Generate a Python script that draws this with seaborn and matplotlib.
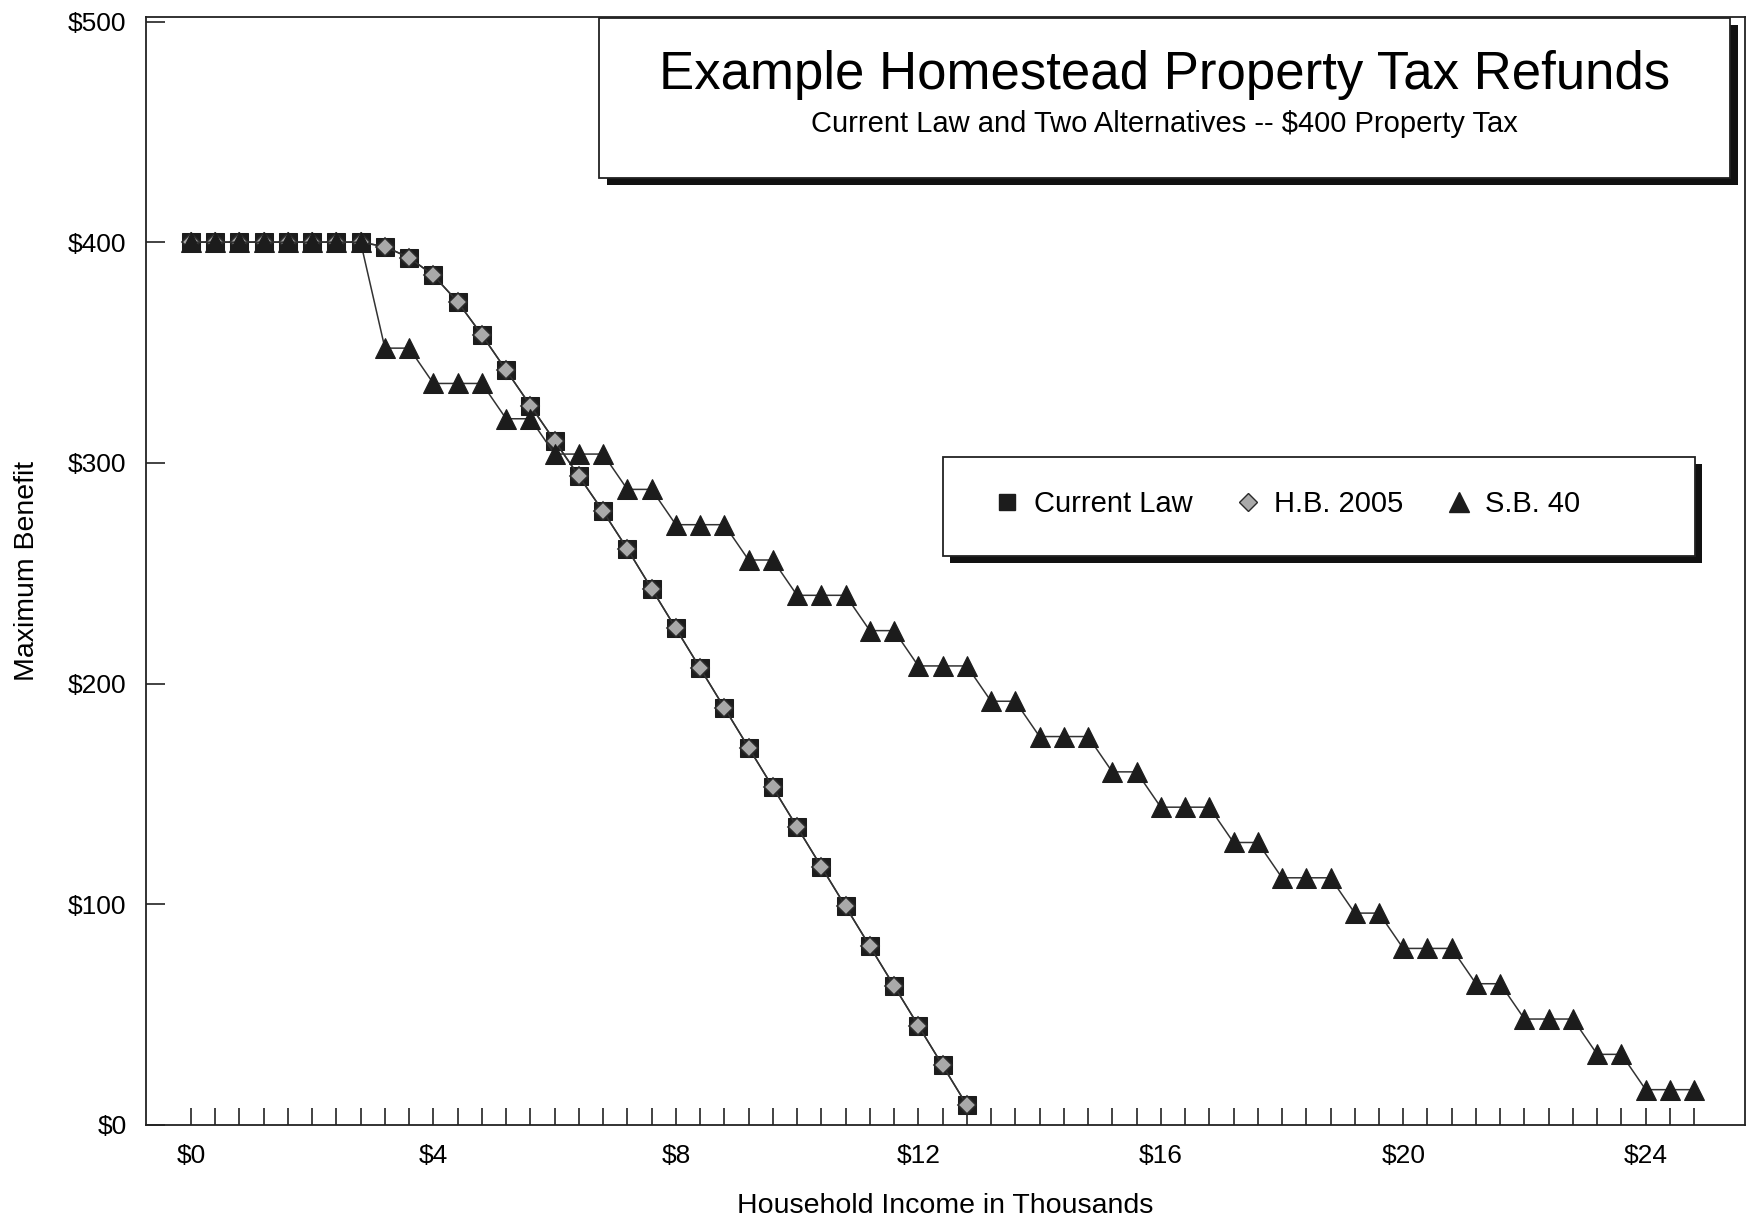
import pandas as pd
import matplotlib
matplotlib.use("Agg")
import matplotlib.pyplot as plt
import seaborn as sns
from matplotlib.lines import Line2D
from matplotlib.patches import Rectangle

# Household income in thousands (one point every $400)
income = [0.0, 0.4, 0.8, 1.2, 1.6, 2.0, 2.4, 2.8, 3.2, 3.6, 4.0, 4.4, 4.8, 5.2, 5.6,
          6.0, 6.4, 6.8, 7.2, 7.6, 8.0, 8.4, 8.8, 9.2, 9.6, 10.0, 10.4, 10.8, 11.2,
          11.6, 12.0, 12.4, 12.8, 13.2, 13.6, 14.0, 14.4, 14.8, 15.2, 15.6, 16.0,
          16.4, 16.8, 17.2, 17.6, 18.0, 18.4, 18.8, 19.2, 19.6, 20.0, 20.4, 20.8,
          21.2, 21.6, 22.0, 22.4, 22.8, 23.2, 23.6, 24.0, 24.4, 24.8]

current_law = [400, 400, 400, 400, 400, 400, 400, 400, 398, 393, 385, 373, 358, 342,
               326, 310, 294, 278, 261, 243, 225, 207, 189, 171, 153, 135, 117, 99,
               81, 63, 45, 27, 9]
hb_2005 = [400, 400, 400, 400, 400, 400, 400, 400, 398, 393, 385, 373, 358, 342,
           326, 310, 294, 278, 261, 243, 225, 207, 189, 171, 153, 135, 117, 99,
           81, 63, 45, 27, 9]
sb_40 = [400, 400, 400, 400, 400, 400, 400, 400, 352, 352, 336, 336, 336, 320, 320,
         304, 304, 304, 288, 288, 272, 272, 272, 256, 256, 240, 240, 240, 224, 224,
         208, 208, 208, 192, 192, 176, 176, 176, 160, 160, 144, 144, 144, 128, 128,
         112, 112, 112, 96, 96, 80, 80, 80, 64, 64, 48, 48, 48, 32, 32, 16, 16, 16]

x_ticks = income
x_labels = ["$0", "$4", "$8", "$12", "$16", "$20", "$24"]
y_ticks = [0, 100, 200, 300, 400, 500]

cl_df = pd.DataFrame({"income": income[:len(current_law)], "benefit": current_law})
hb_df = pd.DataFrame({"income": income[:len(hb_2005)], "benefit": hb_2005})
sb_df = pd.DataFrame({"income": income[:len(sb_40)], "benefit": sb_40})

sns.set_style("white")
plt.rcParams["font.family"] = ["Liberation Sans", "DejaVu Sans"]
plt.rcParams["text.color"] = "black"
plt.rcParams["xtick.color"] = "black"
plt.rcParams["ytick.color"] = "black"
plt.rcParams["axes.labelcolor"] = "black"

fig = plt.figure(figsize=(17.48, 12.22), dpi=100)
ax = fig.add_axes([0.0835, 0.0794, 0.9145, 0.9066])

line_col = "#333333"
sns.lineplot(data=cl_df, x="income", y="benefit", ax=ax, color=line_col, lw=1.1,
             marker="s", markersize=13, markerfacecolor="#1c1c1c",
             markeredgecolor="#1c1c1c", zorder=3)
sns.lineplot(data=hb_df, x="income", y="benefit", ax=ax, color=line_col, lw=1.1,
             marker="D", markersize=9, markerfacecolor="#a9a9a9",
             markeredgecolor="#2a2a2a", markeredgewidth=1.2, zorder=4)
sns.lineplot(data=sb_df, x="income", y="benefit", ax=ax, color=line_col, lw=1.1,
             marker="^", markersize=15, markerfacecolor="#1c1c1c",
             markeredgecolor="#1c1c1c", zorder=5)

ax.set_xlim(-0.742, 25.63)
ax.set_ylim(0, 502)

ax.set_xticks(x_ticks)
ax.set_xticklabels([x_labels[int(round(v)) // 4] if abs(v - round(v)) < 1e-6 and int(round(v)) % 4 == 0 else ""
                    for v in x_ticks])
ax.tick_params(axis="x", direction="in", length=12, width=1.2, color="#222222",
               labelsize=19, pad=14, bottom=True)
ax.set_yticks(y_ticks)
ax.set_yticklabels([f"${v}" for v in y_ticks])
ax.tick_params(axis="y", direction="in", length=14, width=1.2, color="#222222",
               labelsize=19, pad=14, left=True)

for s in ax.spines.values():
    s.set_color("#222222")
    s.set_linewidth(1.3)

ax.set_xlabel("Household Income in Thousands", fontsize=20.5, labelpad=18)
ax.set_ylabel("Maximum Benefit", fontsize=20.5, labelpad=20)


def shadow_box(x0, y0, x1, y1, dx, dy):
    fig.add_artist(Rectangle((x0 + dx, y0 - dy), x1 - x0, y1 - y0,
                             transform=fig.transFigure, facecolor="#111111",
                             edgecolor="none", zorder=8))
    fig.add_artist(Rectangle((x0, y0), x1 - x0, y1 - y0,
                             transform=fig.transFigure, facecolor="white",
                             edgecolor="#222222", linewidth=1.3, zorder=9))


# title box
shadow_box(0.3427, 0.8543, 0.9897, 0.9853, 8 / 1748, 7 / 1222)
fig.text(0.6665, 0.9386, "Example Homestead Property Tax Refunds", fontsize=38,
         ha="center", va="center", zorder=10)
fig.text(0.6660, 0.8985, "Current Law and Two Alternatives -- $400 Property Tax",
         fontsize=21, ha="center", va="center", zorder=10)

# legend box
shadow_box(0.5395, 0.545, 0.9697, 0.626, 7 / 1748, 7 / 1222)
handles = [
    Line2D([], [], ls="none", marker="s", markersize=12, markerfacecolor="#1c1c1c",
           markeredgecolor="#1c1c1c"),
    Line2D([], [], ls="none", marker="D", markersize=9, markerfacecolor="#a9a9a9",
           markeredgecolor="#2a2a2a"),
    Line2D([], [], ls="none", marker="^", markersize=14, markerfacecolor="#1c1c1c",
           markeredgecolor="#1c1c1c"),
]
leg = fig.legend(handles, ["Current Law", "H.B. 2005", "S.B. 40"], ncol=3,
                 loc="center", bbox_to_anchor=(0.7367, 0.5876), frameon=False,
                 handlelength=0.8, handletextpad=0.5, columnspacing=1.5,
                 prop={"size": 21})
leg.set_zorder(11)

fig.savefig("out.png", dpi=100)
